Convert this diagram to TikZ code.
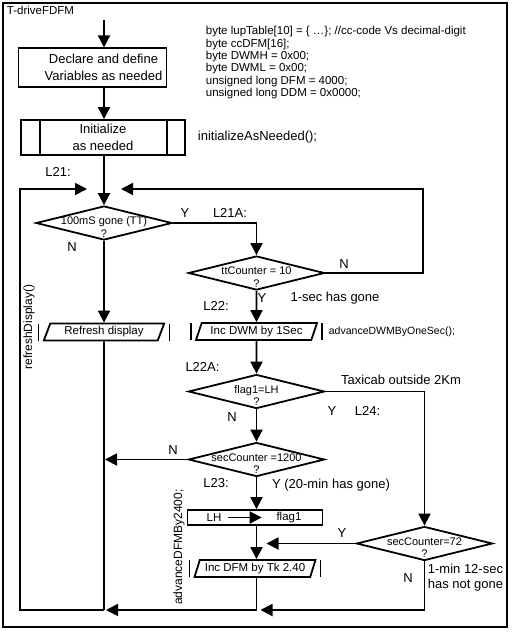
\documentclass[tikz,border=0pt]{standalone}
\usepackage{fontspec}
\setmainfont{Liberation Sans}
\usetikzlibrary{positioning,arrows.meta,shapes.geometric,calc}

\begin{document}
\begin{tikzpicture}[x=1pt,y=-1pt,line width=1.8pt,
  flow/.style={-{Triangle[length=12pt,width=12pt]}},
  box/.style={rectangle, draw, inner sep=0pt, align=center, font=\fontsize{13}{17}\selectfont},
  boxtxt/.style={inner sep=0pt, align=center, font=\fontsize{13}{17}\selectfont},
  dec/.style={diamond, draw, minimum width=136pt, minimum height=34pt, inner sep=0pt},
  dectxt/.style={inner sep=0pt, align=center, yshift=-4pt, font=\fontsize{11}{12.5}\selectfont},
  io/.style={trapezium, trapezium left angle=66, trapezium right angle=114,
             trapezium stretches=true, draw, minimum width=121pt, minimum height=17pt,
             inner sep=0pt, font=\fontsize{11.5}{12}\selectfont},
  lbl/.style={inner sep=0pt, font=\fontsize{13}{15}\selectfont},
  small/.style={inner sep=0pt, font=\fontsize{11.5}{12.4}\selectfont},
  call/.style={inner sep=0pt, font=\fontsize{10.5}{12}\selectfont},
  vcall/.style={inner sep=0pt, rotate=90, font=\fontsize{12}{14}\selectfont}]
  \fill[white] (0,0) rectangle (513,632);
  \useasboundingbox (0,0) rectangle (513,632);
  \draw[line width=2pt] (3,3) rectangle (507,627);
  \node[small, anchor=west] (title) at (6,10) {T-driveFDFM};

  % declarations
  \coordinate (top) at (104,20);
  \node[box, minimum width=148pt, minimum height=39pt,
        label={[boxtxt, xshift=11pt]center:{Declare and define\\Variables as needed}}] (decl) at (92.5,67.8) {};
  \node[small, anchor=north west, align=left] (vars) at (205,25.5)
    {byte lupTable[10] = \{ …\}; //cc-code Vs decimal-digit\\
     byte ccDFM[16];\\
     byte DWMH = 0x00;\\
     byte DWML = 0x00;\\
     unsigned long DFM = 4000;\\
     unsigned long DDM = 0x0000;};
  \node[box, minimum width=164pt, minimum height=35pt] (init) at (103,137.5) {Initialize\\as needed};
  \draw ([xshift=19.5pt]init.north west) -- ([xshift=19.5pt]init.south west);
  \draw ([xshift=-19pt]init.north east) -- ([xshift=-19pt]init.south east);
  \node[lbl, anchor=west] (initcall) at (197,137) {initializeAsNeeded();};

  % main loop
  \coordinate (j21) at (104,189);
  \node[lbl] (l21) at (58,172) {L21:};
  \node[dec, label={[dectxt]center:{100mS gone (TT)\\?}}] (d1) at (104,223) {};
  \node[dec, label={[dectxt]center:{ttCounter = 10\\?}}] (d2) at (256.5,273) {};
  \node[io] (rfsh) at (104,332) {Refresh display};
  \node[io] (incdwm) at (256.5,331.5) {Inc DWM  by 1Sec};
  \node[call, anchor=west] (dwmcall) at (328,331.5) {advanceDWMByOneSec();};
  \node[vcall] (rfcall) at (29,327) {refreshDisplay()};
  \node[dec, label={[dectxt]center:{flag1=LH\\?}}] (d3) at (256.5,391.5) {};
  \node[dec, label={[dectxt]center:{secCounter =1200\\?}}] (d4) at (256.5,459.5) {};
  \node[box, minimum width=135pt, minimum height=15pt] (lhbox) at (255,517.5) {};
  \node[small] (lh) at (214,517.5) {LH};
  \node[small] (fl1) at (289,517.5) {flag1};
  \node[io] (incdfm) at (255,568.5) {Inc DFM by Tk 2.40};
  \node[vcall] (dfmcall) at (179,547) {advanceDFMBy2400;};
  \node[dec, label={[dectxt]center:{secCounter=72\\?}}] (d5) at (424.5,543.5) {};
  \foreach \n in {rfsh,incdwm,incdfm}{
    \draw ($(\n)+(-65.5,-8.5)$) -- ++(0,17);
    \draw ($(\n)+(65.5,-8.5)$) -- ++(0,17);
  }

  % labels
  \node[lbl] (y1) at (185,213) {Y};
  \node[lbl] (l21a) at (230,213) {L21A:};
  \node[lbl] (n1) at (72,247) {N};
  \node[lbl] (n2) at (344,264) {N};
  \node[lbl] (y2) at (262,298) {Y};
  \node[lbl] (sec1) at (335,298) {1-sec has gone};
  \node[lbl] (l22) at (216,306) {L22:};
  \node[lbl] (l22a) at (202.5,367) {L22A:};
  \node[lbl] (taxi) at (401,380) {Taxicab outside 2Km};
  \node[lbl] (y3) at (332,411) {Y};
  \node[lbl] (l24) at (367.5,411) {L24:};
  \node[lbl] (n3) at (232,417) {N};
  \node[lbl] (n4) at (173,450) {N};
  \node[lbl] (l23) at (216,483) {L23:};
  \node[lbl] (min20) at (331,485) {Y (20-min has gone)};
  \node[lbl] (y5) at (342,533) {Y};
  \node[lbl] (n5) at (408,578) {N};
  \node[lbl, anchor=west, align=left] (min1) at (427,577.5) {1-min 12-sec\\has not gone};

  % connectors
  \coordinate (c21) at (423,189);
  \coordinate (jb1) at (104,610);
  \coordinate (jb2) at (256.5,610);
  \coordinate (bl) at (20,610);
  \draw[flow] (top) -- (decl.north -| top);
  \draw[flow] (decl.south -| top) -- (init.north -| top);
  \draw[flow] (init.south -| d1) -- (d1.north);
  \draw[flow] (d1.south) -- (rfsh.north);
  \draw (rfsh.south) -- (jb1);
  \draw[flow] (d1.east) -| (d2.north);
  \draw[flow, shorten >=17pt] (d2.east) -| (c21) -- (j21);
  \draw[flow, shorten >=17pt] (jb1) -- (bl) |- (j21);
  \draw[flow] (d2.south) -- (incdwm.north);
  \draw[flow] (incdwm.south) -- (d3.north);
  \draw[flow] (d3.south) -- (d4.north);
  \draw[flow] (d3.east) -| (d5.north);
  \draw[flow, shorten >=1pt] (d4.west) -- (d4.west -| jb1);
  \draw[flow] (d4.south) -- (lhbox.north -| d4);
  \draw[flow, shorten <=6pt, shorten >=14pt] (lh) -- (fl1);
  \draw[flow] (lhbox.south -| d4) -- (incdfm.north -| d4);
  \draw[flow, shorten >=10pt] (d5.west) -- (d5.west -| d4);
  \draw (incdfm.south -| d4) -- (jb2);
  \draw[flow, shorten >=2pt] (jb2) -- (jb1);
  \draw[flow, shorten >=4pt] (d5.south) |- (jb2);
\end{tikzpicture}
\end{document}
